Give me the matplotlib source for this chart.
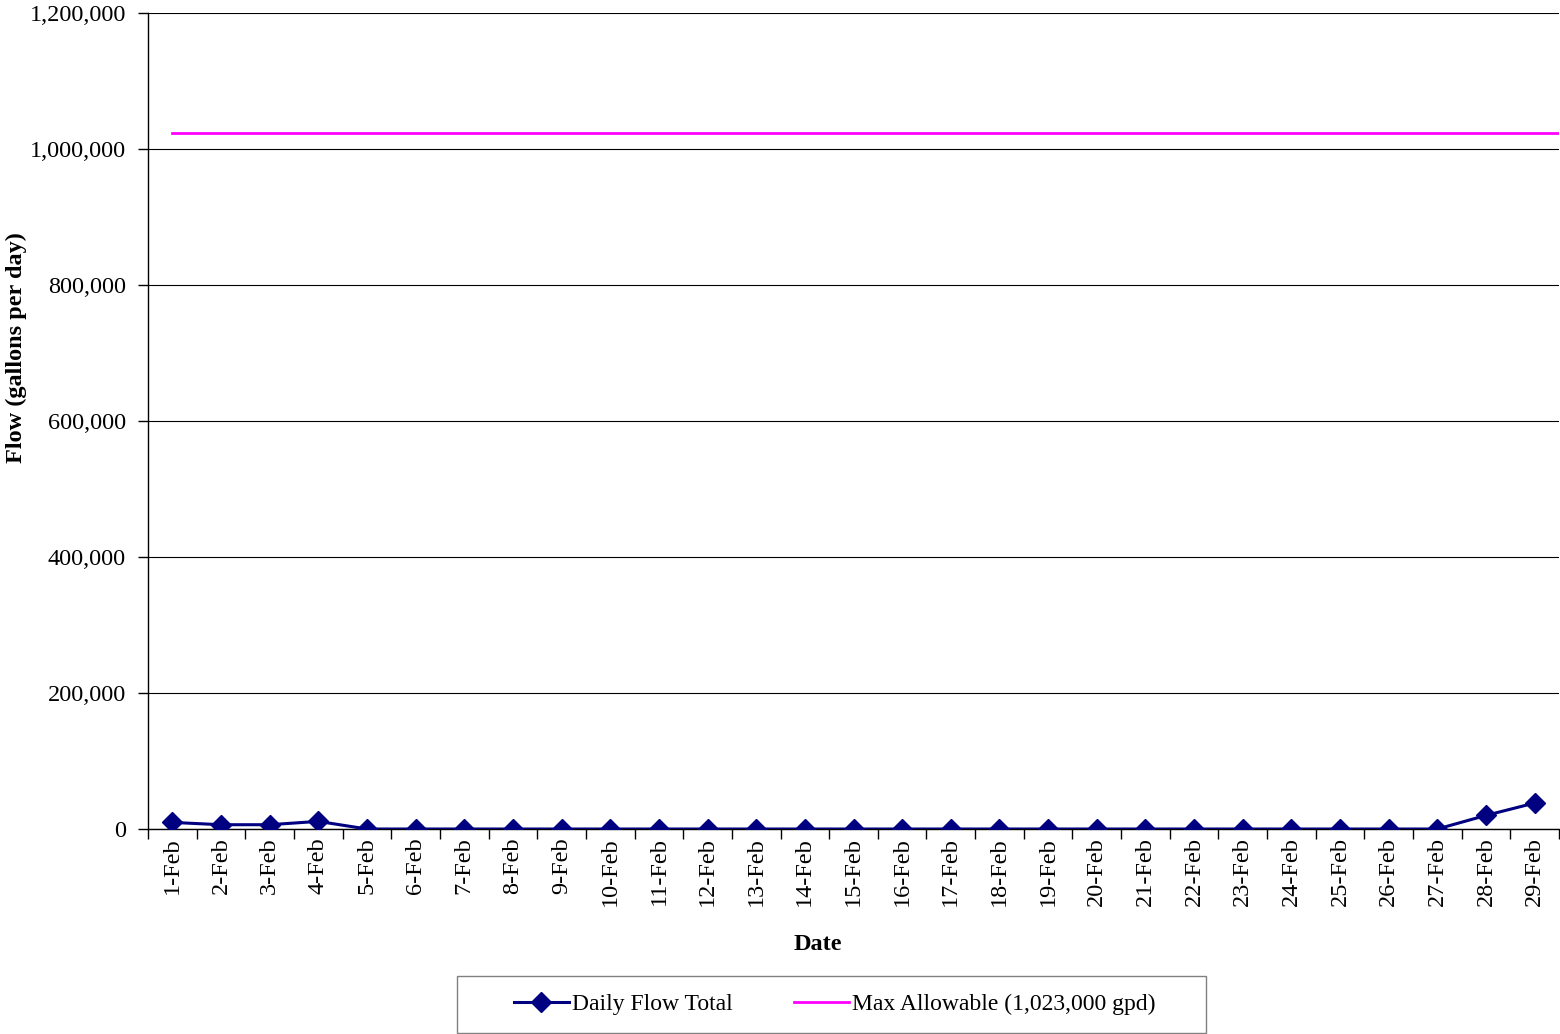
import numpy as np
import matplotlib.pyplot as plt
from matplotlib.ticker import FuncFormatter, FixedLocator
from matplotlib.patches import Rectangle

plt.rcParams['font.family'] = ['Liberation Serif', 'DejaVu Serif']

days = ["%d-Feb" % d for d in range(1, 30)]
daily_flow = [9700, 6300, 6300, 11200, 0, 0, 0, 0, 0, 0,
              0, 0, 0, 0, 0, 0, 0, 0, 0, 0,
              0, 0, 0, 0, 0, 0, 0, 20000, 38200]
max_allowable = 1023000

x = np.arange(len(days))

W, H = 1560, 1034
fig = plt.figure(figsize=(W/100, H/100), dpi=100)
ax = fig.add_axes([148/W, 1-829/H, (1559-148)/W, (829-13)/H])

ax.plot(x, daily_flow, color="#000080", lw=2.2, marker="D", ms=10,
        label="Daily Flow Total", zorder=3)
ax.plot([0, len(days) - 0.5], [max_allowable, max_allowable], color="#FF00FF",
        lw=2, label="Max Allowable (1,023,000 gpd)", zorder=2)

ax.set_xlim(-0.5, len(days) - 0.5)
ax.set_ylim(0, 1200000)
ax.set_yticks(np.arange(0, 1200001, 200000))
ax.yaxis.set_major_formatter(FuncFormatter(lambda v, p: "{:,.0f}".format(v)))
ax.grid(axis="y", color="black", lw=0.8)
ax.set_axisbelow(True)

ax.set_xticks(x)
ax.set_xticklabels(days, rotation=90, fontsize=17.5)
ax.xaxis.set_minor_locator(FixedLocator(np.arange(-0.5, len(days), 1)))
ax.tick_params(axis="x", which="major", length=0, pad=6)
ax.tick_params(axis="x", which="minor", length=7, width=1)
ax.tick_params(axis="y", length=7, width=1, labelsize=17.5, pad=9)

for s in ["top", "right"]:
    ax.spines[s].set_visible(False)
ax.spines["left"].set_linewidth(1)
ax.spines["bottom"].set_linewidth(1)

ax.set_xlabel("Date", fontsize=17.5, fontweight="bold")
ax.set_ylabel("Flow (gallons per day)", fontsize=17.5, fontweight="bold")
ax.xaxis.set_label_coords(0.475, -0.129)
ax.yaxis.set_label_coords(-0.093, 0.59)
ax.yaxis.label.set_verticalalignment("center")

# legend box drawn separately so padding matches
fig.patches.append(Rectangle((457/W, 1-1033/H), (1206-457)/W, (1033-976)/H,
                             transform=fig.transFigure, fill=False,
                             edgecolor="#808080", lw=1))
leg = fig.legend(loc="center", bbox_to_anchor=(835/W, 1-1004/H), ncol=2,
                 fontsize=17, frameon=False,
                 columnspacing=2.6, handlelength=2.3, borderpad=0,
                 handletextpad=0.15, borderaxespad=0)

fig.savefig("out.png", dpi=100)
